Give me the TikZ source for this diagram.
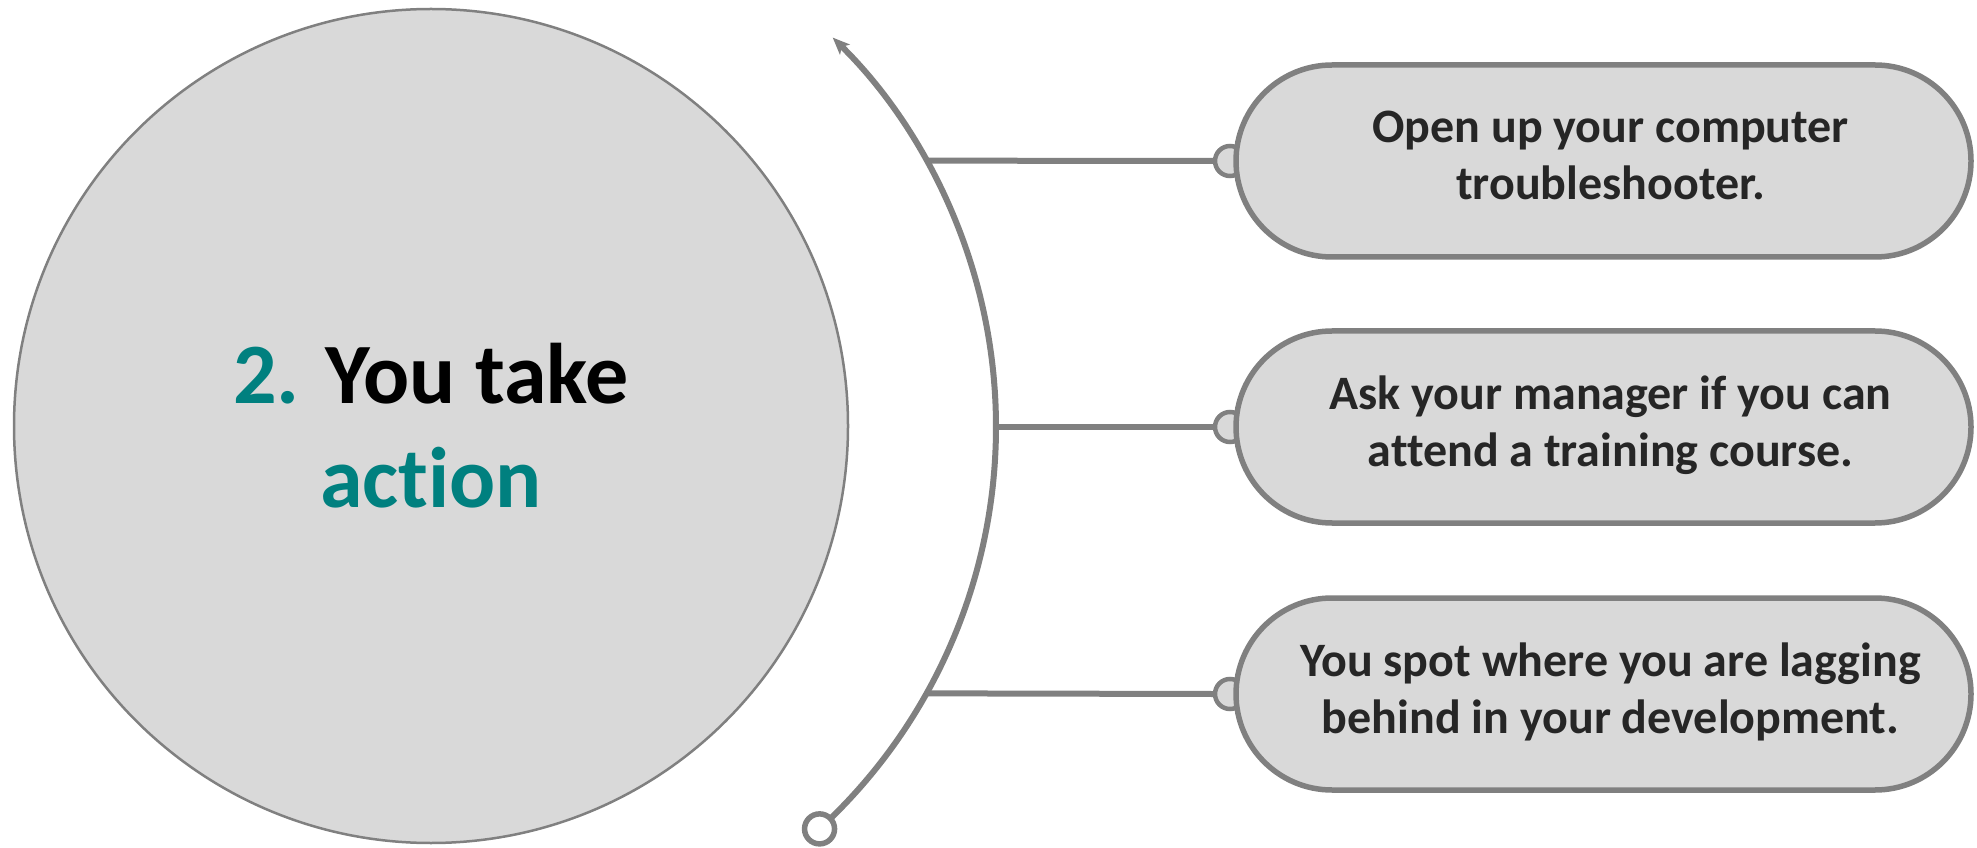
\documentclass[tikz,border=0pt]{standalone}
\usepackage{fontspec}
\setmainfont{Carlito}[Ligatures={NoCommon,NoRequired,NoContextual}]
\usetikzlibrary{arrows.meta,shapes.misc,calc}
\definecolor{edgegray}{HTML}{808080}
\definecolor{fillgray}{HTML}{D9D9D9}
\definecolor{accentteal}{HTML}{00807F}
\definecolor{bodytext}{HTML}{262626}
\begin{document}
\begin{tikzpicture}[x=1pt,y=1pt,
  pill/.style={rounded rectangle, draw=edgegray, fill=fillgray, line width=5.5pt,
    minimum width=735pt, minimum height=192pt, inner sep=0pt},
  pilltext/.style={align=center, inner sep=0pt, text height=78pt, text depth=0pt,
    font=\bfseries\fontsize{48}{57}\selectfont, text=bodytext},
  knob/.style={circle, draw=edgegray, fill=fillgray, line width=4.5pt,
    minimum size=30pt, inner sep=0pt},
  endknob/.style={circle, draw=edgegray, fill=white, line width=5.5pt,
    minimum size=30pt, inner sep=0pt},
  link/.style={draw=edgegray, line width=6pt},
  hub/.style={circle, draw=edgegray, fill=fillgray, line width=2.5pt,
    minimum size=834pt, inner sep=0pt, align=center,
    font=\bfseries\fontsize{86}{104}\selectfont},
]
\useasboundingbox (0,0) rectangle (1977,847);

% central topic
\node[hub] (hub) at (431,421) {{\color{accentteal}2.} You take\\{\color{accentteal}action}};

% guiding arc
\coordinate (ac) at (450,420);
\node[endknob] (start) at ($(ac)+(-47.4:546)$) {};
\draw[link, -{Stealth[length=17pt,width=14pt,inset=4pt]}]
  ($(ac)+(-45.7:546)$) arc[start angle=-45.7, end angle=45.5, radius=546];

% branch points on the arc
\coordinate (a1) at ($(ac)+(29.2:546)$);
\coordinate (a2) at ($(ac)+(0:546)$);
\coordinate (a3) at ($(ac)+(-29.2:546)$);

% knobs and step boxes
\node[knob] (k1) at (1230,686) {};
\node[knob] (k2) at (1230,420) {};
\node[knob] (k3) at (1230,153) {};

\node[pill] (p1) at (1603.5,686) {};
\node[pill] (p2) at (1603.5,420) {};
\node[pill] (p3) at (1603.5,153) {};

\node[pilltext] (t1) at ($(p1.center)+(7,0)$) {Open up your computer\\troubleshooter.};
\node[pilltext] (t2) at ($(p2.center)+(7,0)$) {Ask your manager if you can\\attend a training course.};
\node[pilltext] (t3) at ($(p3.center)+(7,0)$) {You spot where you are lagging\\behind in your development.};

% connectors
\draw[link] (a1) -- (k1.west);
\draw[link] (a2) -- (k2.west);
\draw[link] (a3) -- (k3.west);
\end{tikzpicture}
\end{document}
